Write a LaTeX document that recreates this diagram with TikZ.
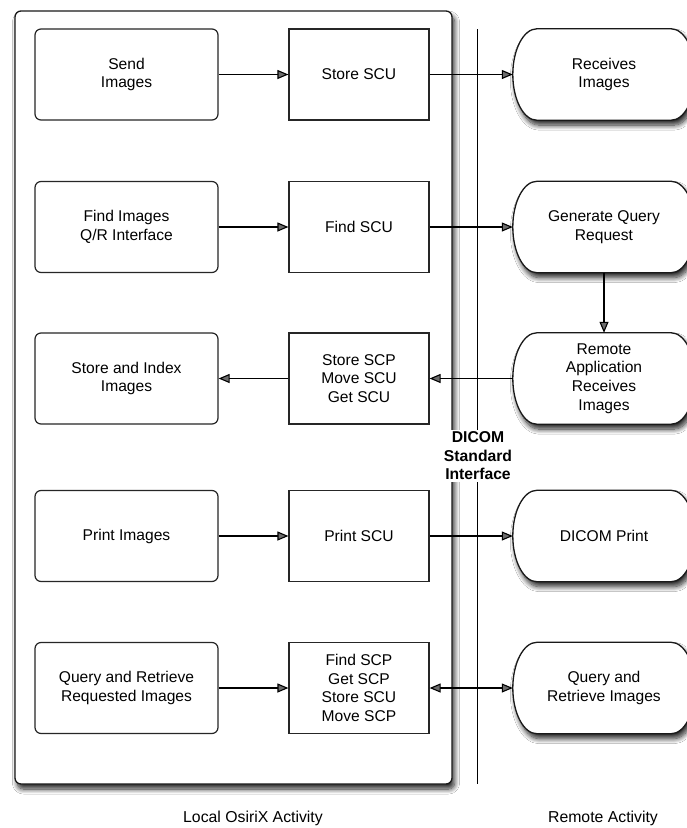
\documentclass[tikz,border=0pt]{standalone}
\usepackage{fontspec}
\setmainfont{Liberation Sans}
\usetikzlibrary{arrows.meta,shadows.blur}
\begin{document}
\begin{tikzpicture}[x=1pt,y=-1pt,
  every node/.style={font=\fontsize{15.6}{18.6}\selectfont, align=center, inner sep=0pt},
  localbox/.style={draw=black!85, line width=1.2pt, rounded corners=6pt, minimum width=183pt, minimum height=91pt},
  svcbox/.style={draw=black!85, line width=1.2pt, minimum width=140pt, minimum height=91pt},
  remote/.style={minimum width=182pt, minimum height=91pt},
  shad/.style={blur shadow={shadow xshift=2.5pt, shadow yshift=-5pt, shadow blur steps=10, shadow blur radius=5pt, shadow opacity=85}},
  stadium/.style={draw=black!90, line width=1.3pt, fill=white, shad},
  conn/.style={line width=1.1pt, -{Triangle[length=11pt,width=9pt]}},
  biconn/.style={line width=1.1pt, {Triangle[length=11pt,width=9pt]}-{Triangle[length=11pt,width=9pt]}},
  caption/.style={font=\fontsize{15.8}{18.6}\selectfont}
]
\useasboundingbox (0,0) rectangle (686,828);
\fill[white] (0,0) rectangle (686,828);

% outer local box
\draw[draw=black!90, line width=1.3pt, rounded corners=6pt, fill=white, shad]
  (15,11) rectangle (452,784);

% interface line
\coordinate (ltop) at (477,29);
\coordinate (lbot) at (477,784);
\draw[line width=1pt] (ltop) -- (lbot);

% left boxes
\node[localbox] (l1) at (126.5,74.5) {Send\\Images};
\node[localbox] (l2) at (126.5,227) {Find Images\\Q/R Interface};
\node[localbox] (l3) at (126.5,378.5) {Store and Index\\Images};
\node[localbox] (l4) at (126.5,536) {Print Images};
\node[localbox] (l5) at (126.5,688) {Query and Retrieve\\Requested Images};

% service boxes
\node[svcbox] (m1) at (359,74.5) {Store SCU};
\node[svcbox] (m2) at (359,227) {Find SCU};
\node[svcbox] (m3) at (359,378.5) {Store SCP\\Move SCU\\Get SCU};
\node[svcbox] (m4) at (359,536) {Print SCU};
\node[svcbox] (m5) at (359,688) {Find SCP\\Get SCP\\Store SCU\\Move SCP};

% remote stadiums
\newcommand{\stadiumpath}[1]{%
  \path[stadium] ([xshift=24pt]#1.north west) -- ([xshift=-24pt]#1.north east)
    .. controls +(13.2,0) and +(0,-25) .. (#1.east)
    .. controls +(0,25) and +(13.2,0) .. ([xshift=-24pt]#1.south east)
    -- ([xshift=24pt]#1.south west)
    .. controls +(-13.2,0) and +(0,25) .. (#1.west)
    .. controls +(0,-25) and +(-13.2,0) .. ([xshift=24pt]#1.north west) -- cycle;}
\path node[remote] (r1) at (604,74.5) {} node[remote] (r2) at (604,227) {}
      node[remote] (r3) at (604,378.5) {} node[remote] (r4) at (604,536) {}
      node[remote] (r5) at (604,688) {};
\stadiumpath{r1}\stadiumpath{r2}\stadiumpath{r3}\stadiumpath{r4}\stadiumpath{r5}
\node at (r1) {Receives\\Images};
\node at (r2) {Generate Query\\Request};
\node at (r3) {Remote\\Application\\Receives\\Images};
\node at (r4) {DICOM Print};
\node at (r5) {Query and\\Retrieve Images};

% connectors
\draw[conn] (l1) -- (m1);
\draw[conn] (m1) -- (r1.west);
\draw[conn] (l2) -- (m2);
\draw[conn] (m2) -- (r2.west);
\draw[conn] (m3) -- (l3);
\draw[conn] (r3.west) -- (m3);
\draw[conn] (r2.south) -- (r3.north);
\draw[conn] (l4) -- (m4);
\draw[conn] (m4) -- (r4.west);
\draw[conn] (l5) -- (m5);
\draw[biconn] (m5) -- (r5.west);

% interface label
\node[fill=white, inner xsep=6pt, inner ysep=2pt, font=\bfseries\fontsize{15.7}{18.5}\selectfont] (dicom) at (478,456) {DICOM\\Standard\\Interface};

% captions
\node[caption] (cl) at (253,818) {Local OsiriX Activity};
\node[caption] (cr) at (603,818) {Remote Activity};
\end{tikzpicture}
\end{document}
